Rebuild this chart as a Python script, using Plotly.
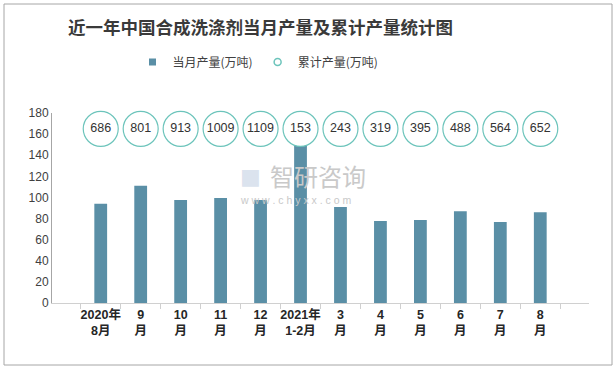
import plotly.graph_objects as go

categories = ["2020年<br>8月", "9<br>月", "10<br>月", "11<br>月", "12<br>月", "2021年<br>1-2月",
              "3<br>月", "4<br>月", "5<br>月", "6<br>月", "7<br>月", "8<br>月"]
monthly = [94, 111, 97.6, 99.5, 97.6, 152, 91, 77.7, 78.7, 87, 76.8, 86]
cumulative = [686, 801, 913, 1009, 1109, 153, 243, 319, 395, 488, 564, 652]

W, H = 616, 369
L, R, T, B = 52, 27, 113, 66
pw, ph = W - L - R, H - T - B

bar_color = "#5a8fa6"
ring_color = "#6cc4bb"
font_cjk = "Noto Sans CJK SC"

fig = go.Figure()
fig.add_trace(go.Scatter(
    x=categories, y=[165] * len(categories), mode="markers+text",
    text=[str(v) for v in cumulative], textposition="middle center",
    textfont=dict(size=12.5, color="#333333", family="Liberation Sans"),
    marker=dict(symbol="circle", size=35, color="white", line=dict(color=ring_color, width=1.2)),
    showlegend=False, cliponaxis=False,
))
fig.add_trace(go.Bar(
    x=categories, y=monthly, name="当月产量(万吨)", showlegend=False,
    marker=dict(color=bar_color, line=dict(width=0)), width=0.32,
))
fig.add_trace(go.Scatter(
    x=[None], y=[None], mode="markers", name="当月产量(万吨)",
    marker=dict(symbol="square", size=7, color=bar_color),
))
fig.add_trace(go.Scatter(
    x=[None], y=[None], mode="markers", name="累计产量(万吨)",
    marker=dict(symbol="circle", size=7, color="white", line=dict(color=ring_color, width=1.5)),
))

def px_x(p):
    return (p - L) / pw

def px_y(p):
    return (H - B - p) / ph

shapes = [dict(type="rect", xref="paper", yref="paper",
               x0=px_x(4), x1=px_x(612), y0=px_y(365), y1=px_y(4),
               line=dict(color="#a6a6a6", width=1), fillcolor="rgba(0,0,0,0)", layer="below")]

annotations = [
    dict(text="<b>近一年中国合成洗涤剂当月产量及累计产量统计图</b>", xref="paper", yref="paper",
         x=px_x(260), y=px_y(27), showarrow=False, xanchor="center", yanchor="middle",
         font=dict(size=17.5, color="#3a3a3a", family=font_cjk)),
    dict(text="智研咨询", xref="paper", yref="paper", x=px_x(268), y=px_y(175), showarrow=False,
         xanchor="left", yanchor="middle", font=dict(size=24, color="#c9c9c9", family=font_cjk)),
    dict(text="w w w . c h y x x . c o m", xref="paper", yref="paper", x=px_x(238), y=px_y(200),
         showarrow=False, xanchor="left", yanchor="middle",
         font=dict(size=10.5, color="#c9c9c9", family="Liberation Sans")),
    dict(text="■", xref="paper", yref="paper", x=px_x(250), y=px_y(176), showarrow=False,
         xanchor="center", yanchor="middle", font=dict(size=22, color="#dbe3ee", family="DejaVu Sans")),
]

fig.update_layout(
    width=W, height=H,
    margin=dict(l=L, r=R, t=T, b=B, pad=0, autoexpand=False),
    paper_bgcolor="white", plot_bgcolor="white",
    font=dict(family=font_cjk, color="#333333"),
    showlegend=True,
    legend=dict(orientation="h", x=px_x(258), xanchor="center", y=px_y(62), yanchor="middle",
                font=dict(size=12, color="#404040", family=font_cjk),
                itemwidth=30, traceorder="normal"),
    shapes=shapes, annotations=annotations,
)
fig.update_xaxes(
    type="category", showline=True, linecolor="#d0d0d0", linewidth=1,
    ticks="outside", tickson="boundaries", ticklen=5, tickcolor="#d0d0d0",
    tickfont=dict(size=12.5, color="#262626", family="Liberation Sans, " + font_cjk),
    showgrid=False, zeroline=False, tickangle=0, automargin=False,
    ticktext=["<b>" + c + "</b>" for c in categories], tickvals=categories,
)
fig.update_yaxes(
    range=[0, 180], dtick=20, showline=True, linecolor="#a6a6a6", linewidth=1,
    ticks="", showgrid=False, zeroline=False, automargin=False,
    tickfont=dict(size=12, color="#404040", family="Liberation Sans"),
)

fig.write_html("out.html", config={"displayModeBar": False},
               post_script="document.body.style.margin='0';")
